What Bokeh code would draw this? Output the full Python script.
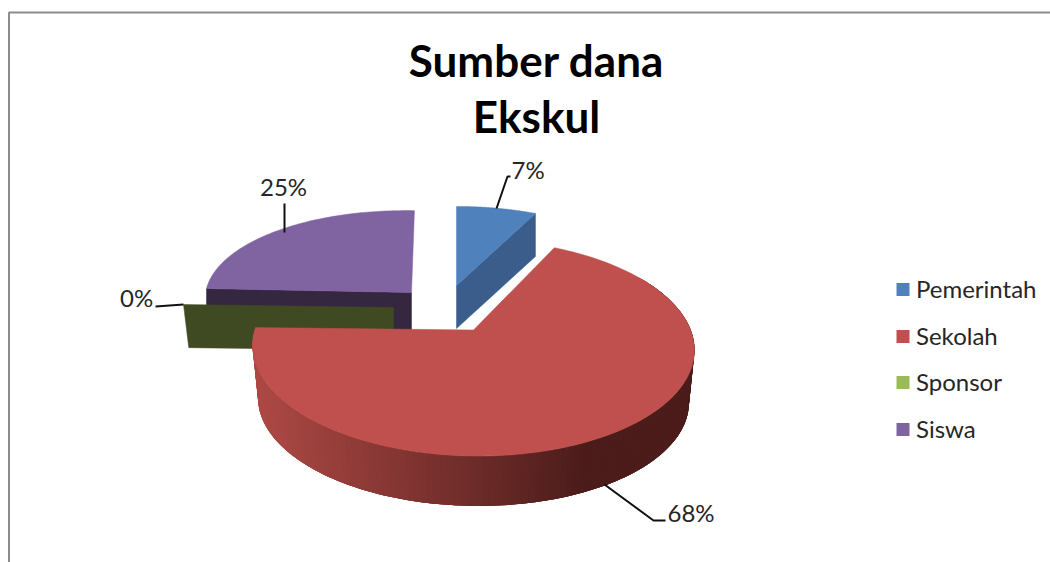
import math
from bokeh.plotting import figure
from bokeh.embed import file_html
from bokeh.resources import INLINE
from bokeh.core.properties import value

categories = ["Pemerintah", "Sekolah", "Sponsor", "Siswa"]
shares = [7, 68, 0, 25]
top_colors = ["#4f81bd", "#c0504d", "#9bbb59", "#8064a2"]
side_colors = ["#3a5d8c", "#4b1c1a", "#3f4a22", "#362740"]
title_lines = ["Sumber dana", "Ekskul"]

# one projected pie-slice geometry per category (exploded 3D look)
GEOM = {
    "Pemerintah": dict(ax=456, ay=285, A=198, B=85, k=0.075, depth=43, scale=1.0, tilt=0.0, shear=0.0),
    "Sekolah": dict(ax=473, ay=329.5, A=218, B=105.5, k=0.163, depth=53, scale=0.975, tilt=0.011, shear=0.0),
    "Sponsor": dict(ax=393, ay=307, A=210, B=90, k=0.1, depth=43, scale=0.975, tilt=0.014, shear=0.0),
    "Siswa": dict(ax=411, ay=292, A=205, B=90, k=0.1, depth=40, scale=1.0, tilt=0.0195, shear=-0.036),
}


def project(g, theta, ring=0.0):
    s = 1 + (g["scale"] - 1) * ring
    w = 1 + g["k"] * math.cos(theta)
    dx = g["A"] * math.sin(theta) / w * s
    dy = -g["B"] * math.cos(theta) / w * s
    return (g["ax"] + dx + g["shear"] * dy, g["ay"] + dy + g["tilt"] * dx + g["depth"] * ring)


def arc(g, t0, t1, ring=0.0, n=80):
    pts = [project(g, t0 + (t1 - t0) * i / n, ring) for i in range(n + 1)]
    return [p[0] for p in pts], [p[1] for p in pts]


def mix(c0, c1, f):
    return tuple(round(a + (b - a) * f) for a, b in zip(c0, c1))


W, H = 1050, 562
p = figure(width=W, height=H, x_range=(0, W), y_range=(H, 0), output_backend="svg",
           toolbar_location=None, min_border=0, outline_line_color=None)
p.axis.visible = False
p.grid.visible = False

# frame
p.line([1050, 8.5, 8.5], [12, 12, 562], line_color="#8c8c8c", line_width=2)

# angular extent of each slice
total = sum(shares)
spans = {}
start = 0.0
for c, v in zip(categories, shares):
    end = start + v / total * 2 * math.pi
    spans[c] = (start, end)
    start = end
colors = dict(zip(categories, top_colors))
sides = dict(zip(categories, side_colors))
apex = lambda g, ring=0.0: (g["ax"], g["ay"] + g["depth"] * ring)


def cut_face(c, theta):
    g = GEOM[c]
    a0, a1 = apex(g), apex(g, 1)
    o0, o1 = project(g, theta), project(g, theta, 1)
    p.patch([a0[0], o0[0], o1[0], a1[0]], [a0[1], o0[1], o1[1], a1[1]],
            color=sides[c], line_width=0.5)


def top_face(c):
    g = GEOM[c]
    t0, t1 = spans[c]
    xs, ys = arc(g, t0, t1)
    p.patch([g["ax"]] + xs, [g["ay"]] + ys, color=colors[c], line_width=0.5)


# Siswa
cut_face("Siswa", spans["Siswa"][0])
top_face("Siswa")
# Sponsor (zero-share slice shows only its cut face)
cut_face("Sponsor", spans["Sponsor"][0])

# Sekolah: shaded outer wall then top
g = GEOM["Sekolah"]
t0, t1 = spans["Sekolah"]
light, dark = (172, 72, 68), (75, 28, 26)
n = 160
for i in range(n):
    a = t1 - (t1 - t0) * i / n
    b = t1 - (t1 - t0) * (i + 4) / n
    if b < math.radians(55):
        break
    xs, ys = arc(g, a, b, 0, 4)
    xs2, ys2 = arc(g, b, a, 1, 4)
    f = min(1.0, max(0.0, (project(g, a)[0] - 258) / 325))
    col = "#%02x%02x%02x" % mix(light, dark, f)
    p.patch(xs + xs2, ys + ys2, color=col, line_width=0)
top_face("Sekolah")

# Pemerintah
cut_face("Pemerintah", spans["Pemerintah"][1])
top_face("Pemerintah")

# leader lines and percentage labels
LEADERS = {
    "Pemerintah": dict(xs=[496, 507, 510], ys=[208, 176, 176], tx=511, ty=168.5),
    "Sekolah": dict(xs=[604, 653, 665], ys=[484, 520, 520], tx=667, ty=511.5),
    "Sponsor": dict(xs=[183, 155], ys=[304, 306], tx=119.5, ty=296.5),
    "Siswa": dict(xs=[284, 284], ys=[232, 203], tx=259.5, ty=186),
}
for c, v in zip(categories, shares):
    L = LEADERS[c]
    p.line(L["xs"], L["ys"], line_color="#111111", line_width=2)
    p.text([L["tx"]], [L["ty"]], text=[f"{v}%"], text_font=value("Lato"), text_font_size="24px",
           text_color="#262626", text_align="left", text_baseline="alphabetic")

# title
p.text([536, 536], [59, 115], text=title_lines, text_font=value("Lato"), text_font_style="bold",
       text_font_size="44px", text_color="#000000", text_align="center", text_baseline="alphabetic")

# legend
legend_y = [289, 336, 382, 429]
p.rect([902.5] * 4, legend_y, width=13, height=13, color=top_colors, line_width=0)
p.text([915.5] * 4, [y - 1.5 for y in legend_y], text=categories, text_font=value("Lato"),
       text_font_size="24px", text_color="#262626", text_align="left", text_baseline="alphabetic")

open("out.html", "w").write(file_html(p, INLINE))
